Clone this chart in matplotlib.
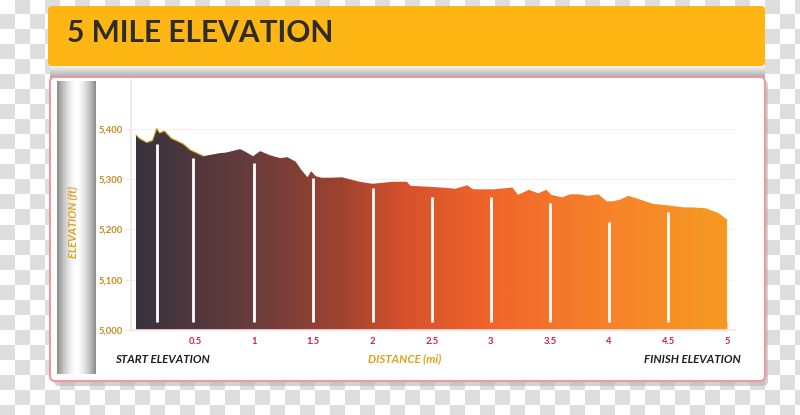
import numpy as np
import matplotlib
matplotlib.use("Agg")
import matplotlib.pyplot as plt
from matplotlib.colors import LinearSegmentedColormap
from matplotlib.patches import FancyBboxPatch

# elevation profile (distance in miles, elevation in ft)
dist = [0.00, 0.03, 0.09, 0.14, 0.175, 0.20, 0.24, 0.30, 0.34, 0.40, 0.46, 0.57,
        0.71, 0.76, 0.88, 0.93, 0.99, 1.05, 1.13, 1.22, 1.28, 1.35, 1.40, 1.45,
        1.48, 1.52, 1.57, 1.64, 1.74, 1.89, 2.00, 2.17, 2.29, 2.32, 2.48, 2.62,
        2.70, 2.80, 2.85, 3.02, 3.16, 3.18, 3.23, 3.32, 3.40, 3.47, 3.51, 3.60,
        3.67, 3.74, 3.82, 3.91, 3.98, 4.03, 4.10, 4.16, 4.23, 4.37, 4.50, 4.63,
        4.71, 4.82, 4.93, 5.00]
elev = [5388, 5381, 5373, 5377, 5401, 5392, 5396, 5381, 5377, 5370, 5358, 5346,
        5352, 5353, 5360, 5354, 5346, 5356, 5348, 5342, 5344, 5335, 5318, 5304,
        5316, 5306, 5303, 5303, 5304, 5295, 5291, 5295, 5295, 5287, 5285, 5283,
        5281, 5288, 5280, 5280, 5283, 5284, 5269, 5279, 5272, 5279, 5269, 5264,
        5270, 5270, 5267, 5270, 5256, 5256, 5260, 5267, 5262, 5251, 5248, 5244,
        5244, 5242, 5232, 5219]

# white marker posts
post_dist = [0.18, 0.48, 1.0, 1.5, 2.0, 2.5, 3.0, 3.5, 4.0, 4.5, 5.0]
post_elev = [5370, 5343, 5332, 5302, 5283, 5265, 5265, 5252, 5215, 5235, 5218]

x_ticks = [0.5, 1, 1.5, 2, 2.5, 3, 3.5, 4, 4.5, 5]
x_labels = ["0.5", "1", "1.5", "2", "2.5", "3", "3.5", "4", "4.5", "5"]
y_ticks = [5000, 5100, 5200, 5300, 5400]
y_labels = ["5,000", "5,100", "5,200", "5,300", "5,400"]

W, H = 800, 415
fig = plt.figure(figsize=(8, 4.15), dpi=100)
plt.rcParams["font.family"] = ["Lato", "DejaVu Sans"]

# background layer in pixel coordinates
bg = fig.add_axes([0, 0, 1, 1])
bg.axis("off")

# transparency checkerboard
sq = 15
nx, ny = W // sq + 2, H // sq + 2
checker = (np.add.outer(np.arange(ny), np.arange(nx)) % 2).astype(float)
bg.imshow(checker, cmap=LinearSegmentedColormap.from_list("ck", ["#ffffff", "#dedede"]),
          extent=(0, nx * sq, ny * sq, 0), interpolation="nearest", zorder=0)
bg.set_xlim(0, W)
bg.set_ylim(H, 0)

# yellow title banner
bg.add_patch(FancyBboxPatch((48, 6), 717, 60, boxstyle="round,pad=0,rounding_size=4",
                            fc="#fdb614", ec="none", zorder=2))
bg.text(67, 33, "5 MILE ELEVATION", fontsize=21.5, fontweight="bold", color="#2e2b28",
        va="center", ha="left", zorder=3)

# shadow strip under banner
grey = np.linspace(0, 1, 20).reshape(-1, 1)
bg.imshow(grey, cmap=LinearSegmentedColormap.from_list("sh", ["#f2f2f2", "#a9a9a9"]),
          extent=(50, 765, 78, 66), aspect="auto", zorder=2)

# drop shadow and white panel
bg.add_patch(FancyBboxPatch((54, 80), 714, 306, boxstyle="round,pad=0,rounding_size=5",
                            fc="#b5b5b5", ec="none", alpha=0.6, zorder=2))
bg.add_patch(FancyBboxPatch((50, 77), 715, 304, boxstyle="round,pad=0,rounding_size=5",
                            fc="white", ec="#e99aa2", lw=1.5, zorder=3))

# grey column on the left
col = np.abs(np.linspace(-1, 1, 60)).reshape(1, -1) ** 1.6
bg.imshow(col, cmap=LinearSegmentedColormap.from_list("cl", ["#ffffff", "#8c8c8c"]),
          extent=(57, 96, 374, 82), aspect="auto", zorder=4)
bg.text(73, 222, "ELEVATION (ft)", rotation=90, fontsize=7.8, fontweight="bold",
        style="italic", color="#e0a21a", ha="center", va="center", zorder=5)

# bottom captions
bg.text(115, 359, "START ELEVATION", fontsize=8.3, fontweight="bold", style="italic",
        color="#1e1e1e", ha="left", va="center", zorder=5)
bg.text(405, 359, "DISTANCE (mi)", fontsize=8.3, fontweight="bold", style="italic",
        color="#e0a21a", ha="center", va="center", zorder=5)
bg.text(741, 359, "FINISH ELEVATION", fontsize=8.3, fontweight="bold", style="italic",
        color="#1e1e1e", ha="right", va="center", zorder=5)

# chart axes
left, right, top, bottom = 131, 735, 80, 330
ax = fig.add_axes([left / W, 1 - bottom / H, (right - left) / W, (bottom - top) / H])
ax.patch.set_alpha(0)
px_per_mile = 118.3
x0 = -(136 - left) / px_per_mile

for s in ["top", "right"]:
    ax.spines[s].set_visible(False)
ax.spines["left"].set_color("#fbe0e4")
ax.spines["bottom"].set_color("#fbe0e4")
ax.spines["left"].set_linewidth(1.2)
ax.spines["bottom"].set_linewidth(1.2)
ax.grid(axis="y", color="#fbeef0", lw=0.8)
ax.set_axisbelow(True)

ax.set_xticks(x_ticks)
ax.set_xticklabels(x_labels)
ax.set_yticks(y_ticks)
ax.set_yticklabels(y_labels)
ax.tick_params(axis="x", length=0, pad=5, labelsize=6.8, labelcolor="#d4213d")
ax.tick_params(axis="y", length=4, color="#fbe0e4", pad=2, labelsize=6.8, labelcolor="#c48a1c")
for lab in ax.get_xticklabels() + ax.get_yticklabels():
    lab.set_fontweight("bold")

# gradient filled profile
grad = LinearSegmentedColormap.from_list("elev", [
    (0.0, "#37333f"), (0.2, "#6a3c3c"), (0.35, "#a0432f"), (0.45, "#d5512c"),
    (0.6, "#f0652a"), (0.8, "#f6832a"), (1.0, "#f79a22")])
poly = ax.fill_between(dist, 5000, elev, color="none", lw=0)
img = ax.imshow(np.linspace(0, 1, 256).reshape(1, -1), cmap=grad, aspect="auto",
                extent=(dist[0], dist[-1], 5000, 5420), zorder=2)
img.set_clip_path(poly.get_paths()[0], transform=ax.transData)
ax.plot(dist[:12], elev[:12], color="#c8a020", lw=0.8, zorder=3)

# white posts
ax.vlines(post_dist, 5016, post_elev, colors="white", lw=2, zorder=4)

ax.set_xlim(x0, x0 + (right - left) / px_per_mile)
ax.set_ylim(5000, 5000 + (bottom - top) / 0.5025)

fig.savefig("out.png", dpi=100)
